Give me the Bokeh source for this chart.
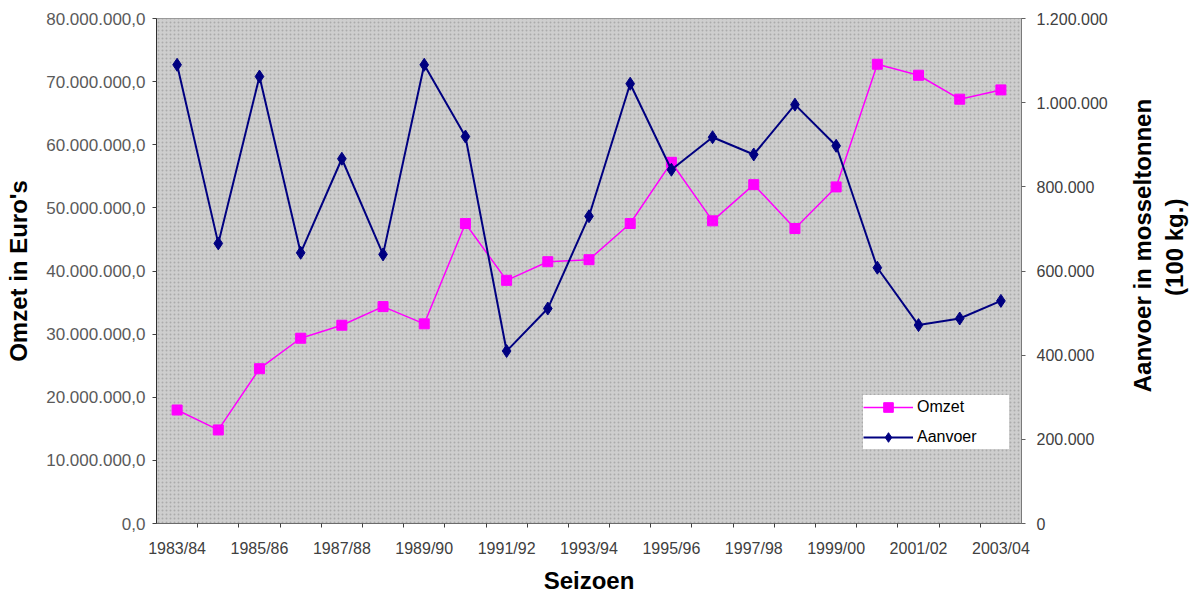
import math
from bokeh.plotting import figure
from bokeh.layouts import row
from bokeh.models import (Range1d, LinearAxis, FixedTicker, Legend, LegendItem,
                          BoxAnnotation)
from bokeh.core.properties import value
from bokeh.embed import file_html
from bokeh.resources import INLINE

seasons = ["1983/84", "1984/85", "1985/86", "1986/87", "1987/88", "1988/89",
           "1989/90", "1990/91", "1991/92", "1992/93", "1993/94", "1994/95",
           "1995/96", "1996/97", "1997/98", "1998/99", "1999/00", "2000/01",
           "2001/02", "2002/03", "2003/04"]

omzet = [17_980_000, 14_820_000, 24_520_000, 29_350_000, 31_410_000, 34_360_000,
         31_630_000, 47_520_000, 38_520_000, 41_470_000, 41_790_000, 47_520_000,
         57_220_000, 47_950_000, 53_680_000, 46_730_000, 53_320_000, 72_750_000,
         71_010_000, 67_220_000, 68_690_000]

aanvoer = [1_090_000, 665_600, 1_062_000, 643_300, 866_700, 639_500,
           1_090_000, 919_500, 409_900, 510_800, 730_200, 1_045_000,
           840_700, 917_900, 876_900, 995_300, 897_500, 607_800,
           471_500, 487_100, 529_000]

omzet_ticks = [0, 10_000_000, 20_000_000, 30_000_000, 40_000_000,
               50_000_000, 60_000_000, 70_000_000, 80_000_000]
omzet_tick_labels = ["0,0", "10.000.000,0", "20.000.000,0", "30.000.000,0",
                     "40.000.000,0", "50.000.000,0", "60.000.000,0",
                     "70.000.000,0", "80.000.000,0"]

aanvoer_ticks = [0, 200_000, 400_000, 600_000, 800_000, 1_000_000, 1_200_000]
aanvoer_tick_labels = ["0", "200.000", "400.000", "600.000", "800.000",
                       "1.000.000", "1.200.000"]

right_title_lines = ["Aanvoer in mosseltonnen", "(100 kg.)"]

x = list(range(len(seasons)))

FONT = "Liberation Sans"
TITLE_SIZE = "24px"
H = 596

p = figure(width=1120, height=H, output_backend="svg", toolbar_location=None,
           x_range=Range1d(-0.5, len(seasons) - 0.5),
           y_range=Range1d(omzet_ticks[0], omzet_ticks[-1]),
           min_border_left=156, min_border_right=99,
           min_border_top=18, min_border_bottom=72)
p.extra_y_ranges = {"aanvoer": Range1d(aanvoer_ticks[0], aanvoer_ticks[-1])}

p.xgrid.visible = False
p.ygrid.visible = False
p.background_fill_color = "#cccccc"
p.border_fill_color = "white"
p.outline_line_color = "#8a8a8a"
p.outline_line_width = 1

bg = BoxAnnotation(fill_color="#cecece", fill_alpha=1.0, line_color=None,
                   hatch_pattern="dot", hatch_color="#808080",
                   hatch_scale=4, hatch_weight=1, hatch_alpha=0.45,
                   level="underlay")
p.add_layout(bg)

# x axis
xa = p.xaxis[0]
xa.ticker = FixedTicker(ticks=x[::2], minor_ticks=[i + 0.5 for i in x[:-1]])
xa.major_label_overrides = {i: seasons[i] for i in x[::2]}
xa.major_tick_line_color = None
xa.major_tick_out = 0
xa.major_tick_in = 0
xa.minor_tick_line_color = "#404040"
xa.minor_tick_out = 4
xa.minor_tick_in = 0
xa.axis_line_color = "#6a6a6a"
xa.major_label_text_font = FONT
xa.major_label_text_font_size = "16px"
xa.major_label_text_color = "#404040"
xa.major_label_standoff = 12
xa.axis_label = "Seizoen"
xa.axis_label_text_font = FONT
xa.axis_label_text_font_style = "bold"
xa.axis_label_text_font_size = TITLE_SIZE
xa.axis_label_text_color = "black"
xa.axis_label_standoff = 7

# left axis
ya = p.yaxis[0]
ya.ticker = FixedTicker(ticks=omzet_ticks)
ya.major_label_overrides = dict(zip(omzet_ticks, omzet_tick_labels))
ya.minor_tick_line_color = None
ya.major_tick_out = 4
ya.major_tick_in = 0
ya.major_tick_line_color = "#404040"
ya.axis_line_color = "#303030"
ya.major_label_text_font = FONT
ya.major_label_text_font_size = "17px"
ya.major_label_text_color = "#5a5a5a"
ya.major_label_standoff = 7
ya.axis_label = "Omzet in Euro's"
ya.axis_label_text_font = FONT
ya.axis_label_text_font_style = "bold"
ya.axis_label_text_font_size = TITLE_SIZE
ya.axis_label_text_color = "black"
ya.axis_label_standoff = 11

# right axis
ra = LinearAxis(y_range_name="aanvoer", ticker=FixedTicker(ticks=aanvoer_ticks))
ra.major_label_overrides = dict(zip(aanvoer_ticks, aanvoer_tick_labels))
ra.minor_tick_line_color = None
ra.major_tick_out = 4
ra.major_tick_in = 0
ra.major_tick_line_color = "#606060"
ra.axis_line_color = "#7a7a7a"
ra.major_label_text_font = FONT
ra.major_label_text_font_size = "16px"
ra.major_label_text_color = "#404040"
ra.major_label_standoff = 11
p.add_layout(ra, "right")

# series
l1 = p.line(x, omzet, line_color="#ff00ff", line_width=1.5)
s1 = p.scatter(x, omzet, marker="square", size=10, fill_color="#ff00ff",
               line_color="#ff00ff")
l2 = p.line(x, aanvoer, line_color="#000080", line_width=2,
            y_range_name="aanvoer")
s2 = p.scatter(x, aanvoer, marker="diamond", size=13, fill_color="#000080",
               line_color="#000080", y_range_name="aanvoer")

legend = Legend(items=[LegendItem(label="Omzet", renderers=[l1, s1]),
                       LegendItem(label="Aanvoer", renderers=[l2, s2])],
                location=(707, 74))
legend.background_fill_color = "white"
legend.background_fill_alpha = 1.0
legend.border_line_color = None
legend.padding = 6
legend.margin = 0
legend.spacing = 6
legend.glyph_width = 50
legend.glyph_height = 24
legend.label_height = 24
legend.label_width = 92
legend.label_standoff = 4
legend.label_text_font = FONT
legend.label_text_font_size = "16px"
legend.label_text_color = "black"
p.add_layout(legend)

# right-hand axis title, in a narrow companion panel (reads bottom-to-top)
TW = 80
pt = figure(width=TW, height=H, output_backend="svg", toolbar_location=None,
            x_range=Range1d(0, TW), y_range=Range1d(0, H),
            min_border=0, outline_line_color=None)
pt.axis.visible = False
pt.grid.visible = False
pt.text(x=[22, 54], y=[328, 326], text=right_title_lines,
        angle=math.pi / 2, text_align="center", text_baseline="middle",
        text_font=value(FONT), text_font_style="bold",
        text_font_size=value(TITLE_SIZE), text_color="black")

layout = row(p, pt)
open("out.html", "w").write(file_html(layout, INLINE))
